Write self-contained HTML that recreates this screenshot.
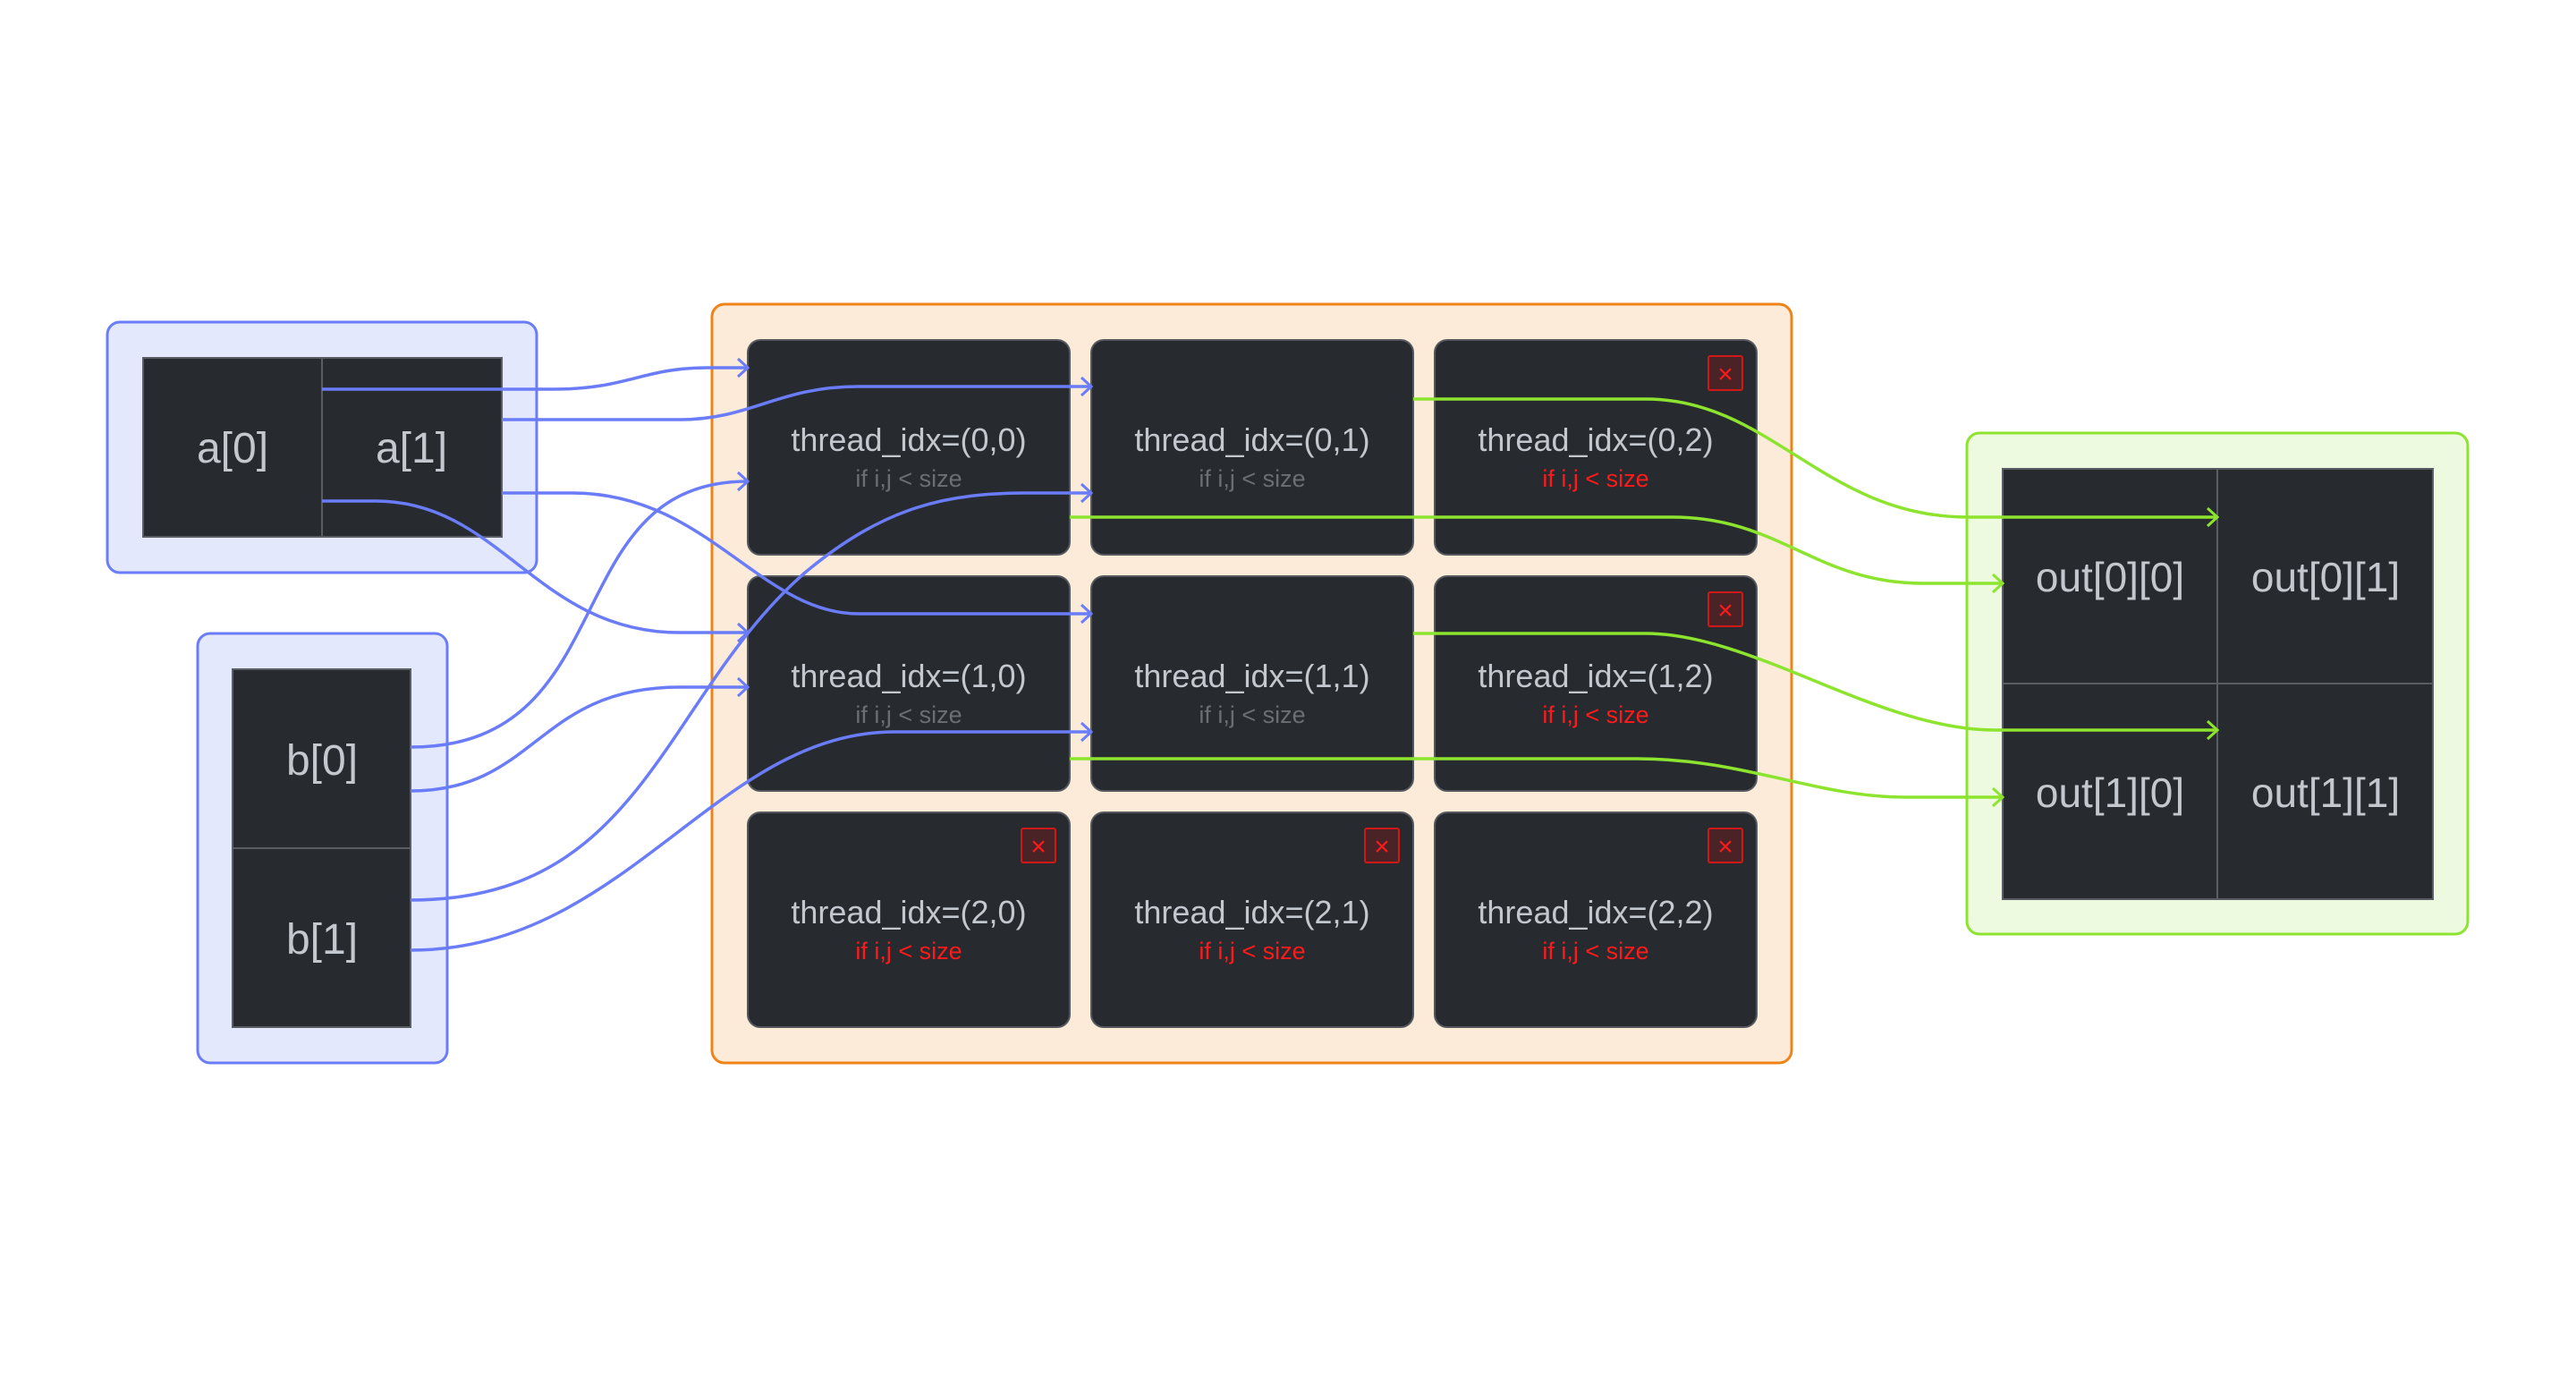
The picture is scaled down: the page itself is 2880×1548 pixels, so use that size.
<!DOCTYPE html>
<html><head><meta charset="utf-8"><style>
html,body{margin:0;padding:0;background:#fff;}
svg{display:block;}
text{font-family:"Liberation Sans",sans-serif;}
</style></head><body>
<svg width="2880" height="1548" viewBox="0 0 2880 1548" xmlns="http://www.w3.org/2000/svg">
<defs>
<marker id="ab" markerWidth="16" markerHeight="24" refX="14" refY="12" orient="auto" markerUnits="userSpaceOnUse"><polyline points="3,2 14,12 3,22" fill="none" stroke="#6a7cf7" stroke-width="3"/></marker>
<marker id="ag" markerWidth="16" markerHeight="24" refX="14" refY="12" orient="auto" markerUnits="userSpaceOnUse"><polyline points="3,2 14,12 3,22" fill="none" stroke="#8de42f" stroke-width="3"/></marker>
</defs>
<rect x="120" y="360" width="480" height="280" rx="14" fill="#e4e8fc" stroke="#6a7cf7" stroke-width="3"/>
<rect x="160" y="400" width="401" height="200" fill="#272b30" stroke="#5a5e64" stroke-width="2"/>
<line x1="360" y1="400" x2="360" y2="600" stroke="#5a5e64" stroke-width="2"/>
<text x="260" y="517" font-size="48" fill="#c3c7ce" text-anchor="middle">a[0]</text>
<text x="460" y="517" font-size="48" fill="#c3c7ce" text-anchor="middle">a[1]</text>
<rect x="221" y="708" width="279" height="480" rx="14" fill="#e4e8fc" stroke="#6a7cf7" stroke-width="3"/>
<rect x="260" y="748" width="199" height="400" fill="#272b30" stroke="#5a5e64" stroke-width="2"/>
<line x1="260" y1="948" x2="459" y2="948" stroke="#5a5e64" stroke-width="2"/>
<text x="360" y="866" font-size="48" fill="#c3c7ce" text-anchor="middle">b[0]</text>
<text x="360" y="1066" font-size="48" fill="#c3c7ce" text-anchor="middle">b[1]</text>
<rect x="796" y="340" width="1207" height="848" rx="14" fill="#fcebd9" stroke="#ef8318" stroke-width="3"/>
<g font-size="36" text-anchor="middle">
<rect x="836" y="380" width="360" height="240" rx="14" fill="#272b30" stroke="#55595f" stroke-width="2"/>
<text x="1016" y="504" fill="#c3c7ce">thread_idx=(0,0)</text><text x="1016" y="544" font-size="27" fill="#6b6f75">if i,j &lt; size</text>
<rect x="1220" y="380" width="360" height="240" rx="14" fill="#272b30" stroke="#55595f" stroke-width="2"/>
<text x="1400" y="504" fill="#c3c7ce">thread_idx=(0,1)</text><text x="1400" y="544" font-size="27" fill="#6b6f75">if i,j &lt; size</text>
<rect x="1604" y="380" width="360" height="240" rx="14" fill="#272b30" stroke="#55595f" stroke-width="2"/>
<text x="1784" y="504" fill="#c3c7ce">thread_idx=(0,2)</text><text x="1784" y="544" font-size="27" fill="#ff1a1a">if i,j &lt; size</text>
<rect x="836" y="644" width="360" height="240" rx="14" fill="#272b30" stroke="#55595f" stroke-width="2"/>
<text x="1016" y="768" fill="#c3c7ce">thread_idx=(1,0)</text><text x="1016" y="808" font-size="27" fill="#6b6f75">if i,j &lt; size</text>
<rect x="1220" y="644" width="360" height="240" rx="14" fill="#272b30" stroke="#55595f" stroke-width="2"/>
<text x="1400" y="768" fill="#c3c7ce">thread_idx=(1,1)</text><text x="1400" y="808" font-size="27" fill="#6b6f75">if i,j &lt; size</text>
<rect x="1604" y="644" width="360" height="240" rx="14" fill="#272b30" stroke="#55595f" stroke-width="2"/>
<text x="1784" y="768" fill="#c3c7ce">thread_idx=(1,2)</text><text x="1784" y="808" font-size="27" fill="#ff1a1a">if i,j &lt; size</text>
<rect x="836" y="908" width="360" height="240" rx="14" fill="#272b30" stroke="#55595f" stroke-width="2"/>
<text x="1016" y="1032" fill="#c3c7ce">thread_idx=(2,0)</text><text x="1016" y="1072" font-size="27" fill="#ff1a1a">if i,j &lt; size</text>
<rect x="1220" y="908" width="360" height="240" rx="14" fill="#272b30" stroke="#55595f" stroke-width="2"/>
<text x="1400" y="1032" fill="#c3c7ce">thread_idx=(2,1)</text><text x="1400" y="1072" font-size="27" fill="#ff1a1a">if i,j &lt; size</text>
<rect x="1604" y="908" width="360" height="240" rx="14" fill="#272b30" stroke="#55595f" stroke-width="2"/>
<text x="1784" y="1032" fill="#c3c7ce">thread_idx=(2,2)</text><text x="1784" y="1072" font-size="27" fill="#ff1a1a">if i,j &lt; size</text>
</g>
<g font-size="30" text-anchor="middle" fill="#ff1a1a">
<rect x="1910" y="398" width="38" height="38" fill="#4a2326" stroke="#d01818" stroke-width="2" rx="2"/><text x="1929" y="428">×</text>
<rect x="1910" y="662" width="38" height="38" fill="#4a2326" stroke="#d01818" stroke-width="2" rx="2"/><text x="1929" y="692">×</text>
<rect x="1142" y="926" width="38" height="38" fill="#4a2326" stroke="#d01818" stroke-width="2" rx="2"/><text x="1161" y="956">×</text>
<rect x="1526" y="926" width="38" height="38" fill="#4a2326" stroke="#d01818" stroke-width="2" rx="2"/><text x="1545" y="956">×</text>
<rect x="1910" y="926" width="38" height="38" fill="#4a2326" stroke="#d01818" stroke-width="2" rx="2"/><text x="1929" y="956">×</text>
</g>
<rect x="2199" y="484" width="560" height="560" rx="14" fill="#eefadf" stroke="#8de42f" stroke-width="3"/>
<rect x="2239" y="524" width="481" height="481" fill="#272b30" stroke="#5a5e64" stroke-width="2"/>
<line x1="2479" y1="524" x2="2479" y2="1005" stroke="#5a5e64" stroke-width="2"/>
<line x1="2239" y1="764" x2="2720" y2="764" stroke="#5a5e64" stroke-width="2"/>
<g font-size="46" fill="#c3c7ce" text-anchor="middle">
<text x="2359" y="661">out[0][0]</text><text x="2600" y="661">out[0][1]</text>
<text x="2359" y="902">out[1][0]</text><text x="2600" y="902">out[1][1]</text>
</g>
<g fill="none" stroke="#6a7cf7" stroke-width="3.5" marker-end="url(#ab)">
<path d="M360,435 L620,435 C700,435 720,411 790,411 L836,411"/>
<path d="M561,469 L760,469 C840,469 870,432 960,432 L1220,432"/>
<path d="M360,560 L420,560 C560,560 600,707 760,707 L836,707"/>
<path d="M561,551 L640,551 C790,551 850,686 960,686 L1220,686"/>
<path d="M459,835 C700,835 620,538 836,538"/>
<path d="M459,884 C600,884 600,768 760,768 L836,768"/>
<path d="M459,1006 C720,1006 740,780 900,640 C990,565 1060,551 1150,551 L1220,551"/>
<path d="M459,1062 C700,1062 800,818 1000,818 L1220,818"/>
</g>
<g fill="none" stroke="#8de42f" stroke-width="3.5" marker-end="url(#ag)">
<path d="M1580,446 L1840,446 C1980,446 2040,578 2200,578 L2479,578"/>
<path d="M1196,578 L1870,578 C1990,578 2030,652 2150,652 L2239,652"/>
<path d="M1580,708 L1840,708 C1960,708 2100,816 2230,816 L2479,816"/>
<path d="M1196,848 L1830,848 C1950,848 2030,891 2130,891 L2239,891"/>
</g>
</svg>
</body></html>
